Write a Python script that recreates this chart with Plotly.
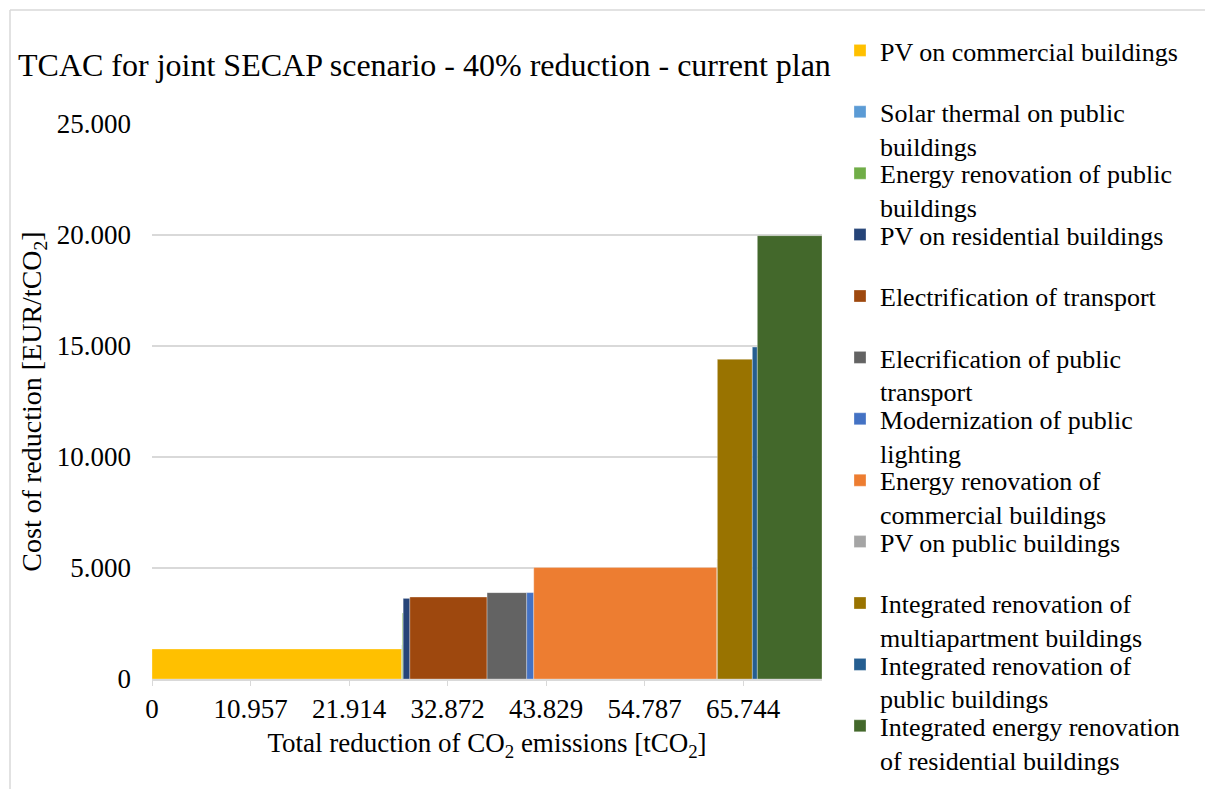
import numpy as np
import plotly.graph_objects as go

# measures, sorted by cost (marginal abatement cost curve)
measures = [
    "PV on commercial buildings<br> ",
    "Solar thermal on public<br>buildings",
    "Energy renovation of public<br>buildings",
    "PV on residential buildings<br> ",
    "Electrification of transport<br> ",
    "Elecrification of public<br>transport",
    "Modernization of public<br>lighting",
    "Energy renovation of<br>commercial buildings",
    "PV on public buildings<br> ",
    "Integrated renovation of<br>multiapartment buildings",
    "Integrated renovation of<br>public buildings",
    "Integrated energy renovation<br>of residential buildings",
]
reduction = [27780, 50, 100, 740, 8590, 4410, 780, 20370, 50, 3890, 555, 7190]   # tCO2
cost = [1350, 1530, 2970, 3630, 3690, 3890, 3890, 5020, 5400, 14400, 14950, 19970]  # EUR/tCO2
colors = ["#FFC000", "#5B9BD5", "#70AD47", "#264478", "#9E480E", "#636363",
          "#4472C4", "#ED7D31", "#A5A5A5", "#997300", "#255E91", "#43682B"]

x_ticks = [0, 10957, 21914, 32872, 43829, 54787, 65744]
x_tick_labels = ["0", "10.957", "21.914", "32.872", "43.829", "54.787", "65.744"]
y_ticks = [0, 5000, 10000, 15000, 20000, 25000]
y_tick_labels = ["0", "5.000", "10.000", "15.000", "20.000", "25.000"]

FONT = "Liberation Serif, Times New Roman, serif"
W, H = 1205, 781   # page body has an 8px margin

widths = np.array(reduction, dtype=float)
ends = np.cumsum(widths)
centers = ends - widths / 2

fig = go.Figure()
legends = {}
for i, (name, c, w, y, col) in enumerate(zip(measures, centers, widths, cost, colors)):
    key = "legend" if i == 0 else f"legend{i + 1}"
    fig.add_trace(go.Bar(
        x=[c], y=[y], width=[w], name=name, legend=key,
        marker=dict(color=col, line=dict(color="rgba(255,255,255,0.6)", width=0.5)),
    ))
    # one legend per entry so the rows sit at the same spacing as the reference
    cy = 52 + i * 61.4
    legends[key] = dict(
        xref="container", yref="container",
        x=(840 - 8) / W, xanchor="left",
        y=1 - (cy - 25 - 8) / H, yanchor="top",
        font=dict(family=FONT, size=26, color="#000000"),
        valign="top", itemwidth=30, bgcolor="rgba(0,0,0,0)",
    )

fig.update_layout(
    width=W, height=H,
    barmode="overlay",
    paper_bgcolor="white", plot_bgcolor="white",
    font=dict(family=FONT, color="#000000", size=26),
    margin=dict(l=144, r=391, t=116, b=110),
    title=dict(text="TCAC for joint SECAP scenario - 40% reduction - current plan",
               x=(18 - 8) / W, xanchor="left", y=1 - (65 - 8) / H, yanchor="middle",
               font=dict(family=FONT, size=32, color="#000000")),
    showlegend=True,
    **legends,
)
fig.update_xaxes(
    range=[0, ends[-1]], tickvals=x_ticks, ticktext=x_tick_labels,
    showgrid=False, zeroline=False,
    showline=True, linecolor="#D9D9D9", linewidth=1.5,
    ticks="outside", ticklen=5, tickcolor="#D9D9D9", ticklabelstandoff=0,
    tickfont=dict(family=FONT, size=27, color="#000000"),
    title=dict(text="Total reduction of CO<sub>2</sub> emissions [tCO<sub>2</sub>]",
               font=dict(family=FONT, size=27, color="#000000"), standoff=10),
)
fig.update_yaxes(
    range=[0, 25000], tickvals=y_ticks, ticktext=y_tick_labels,
    showgrid=True, gridcolor="#D9D9D9", gridwidth=1.5,
    zeroline=False, showline=False, ticks="", ticklabelstandoff=20,
    tickfont=dict(family=FONT, size=27, color="#000000"),
    title=dict(text="Cost of reduction [EUR/tCO<sub>2</sub>]",
               font=dict(family=FONT, size=28, color="#000000"), standoff=6),
)

# chart-area border (left and top edges visible in the reference)
bx = (10 - 152) / 670
by = (679 - 10) / 555
fig.add_shape(type="line", xref="paper", yref="paper",
              x0=bx, x1=bx, y0=-0.25, y1=by,
              line=dict(color="#D9D9D9", width=1.5))
fig.add_shape(type="line", xref="paper", yref="paper",
              x0=bx, x1=1.7, y0=by, y1=by,
              line=dict(color="#D9D9D9", width=1.5))

fig.write_html("out.html")
